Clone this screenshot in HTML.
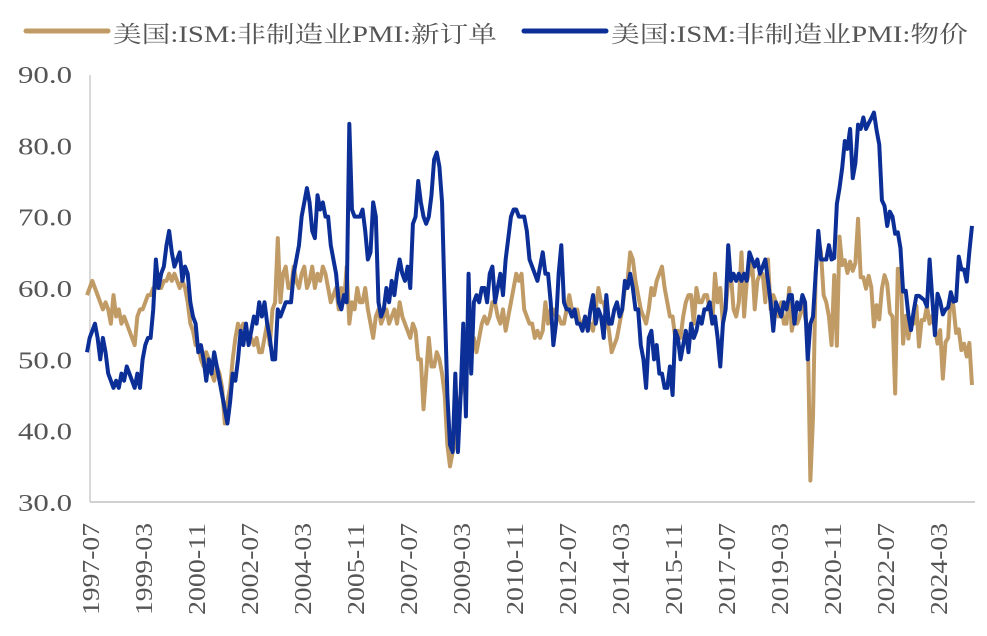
<!DOCTYPE html>
<html><head><meta charset="utf-8"><style>
html,body{margin:0;padding:0;background:#fff;}
svg{display:block;}
</style></head><body>
<svg id="chart" width="987" height="636" xmlns="http://www.w3.org/2000/svg">
  <g>
    <line x1="26" y1="31" x2="108" y2="31" stroke="#C19B66" stroke-width="5" stroke-linecap="round"/>
    <text x="113" y="42" font-size="23" fill="#555" textLength="384" lengthAdjust="spacingAndGlyphs" font-family="'Liberation Serif','Noto Serif CJK SC',serif">美国:ISM:非制造业PMI:新订单</text>
    <line x1="524" y1="31" x2="606" y2="31" stroke="#0B2F97" stroke-width="5" stroke-linecap="round"/>
    <text x="611" y="42" font-size="23" fill="#555" textLength="357" lengthAdjust="spacingAndGlyphs" font-family="'Liberation Serif','Noto Serif CJK SC',serif">美国:ISM:非制造业PMI:物价</text>
  </g>
  <g id="yaxis"></g>
  <g id="xaxis"></g>
  <g id="series"></g>
</svg>
<script>
const startYear = 1997, startMonth = 7;
const yTicks = [30, 40, 50, 60, 70, 80, 90];
const newOrders = [
59,60,61,60,59,58,
57,58,57,55,59,56,57,55,56,55,54,53,
52,56,57,57,58,59,59,60,60,61,60,61,
61,62,61,62,61,60,61,60,58,55,54,52,
52,50,49,51,50,48,47,49,48,46,41,44,
46,50,53,55,54,55,54,53,53,52,53,51,
51,53,55,52,57,58,67,58,62,63,60,60,
63,61,60,62,63,60,61,63,60,62,61,63,
62,60,58,59,60,57,60,58,63,55,58,57,
60,58,58,60,57,55,53,56,57,55,56,57,
55,56,57,55,58,56,55,54,53,55,54,50,
50,43,48,53,49,49,51,50,48,45,38,35,
37,38,43,45,47,48,50,52,53,51,53,55,
56,55,56,58,58,56,55,57,54,56,58,60,
62,61,62,57,56,55,55,53,54,53,54,58,
55,57,57,56,56,55,55,57,59,57,56,57,
55,55,56,54,55,54,57,60,58,58,56,54,
51,52,53,55,57,60,61,65,64,61,59,57,
56,55,57,60,59,61,62,63,60,58,56,56,
53,54,53,56,58,59,59,55,60,58,58,59,
59,57,55,62,58,60,55,57,61,62,57,56,
58,65,56,61,62,64,57,61,62,62,58,64,
57,59,58,56,58,55,55,60,54,56,55,56,
58,56,54,33,42,62,67,65,59,58,56,52,
61.8,51.9,67.2,63.2,63.9,62.1,63.7,62.4,63.5,69.7,61.5,61.5,
59.9,61.7,60.1,54.6,57.6,55.6,59.9,61.8,60.6,56.5,56.0,45.2,
62.7,62.6,52.2,56.1,52.9,55.5,55.0,57.5,51.8,55.5,55.5,57.5,
55.0,56.1,54.4,52.2,54.1,47.3,52.4,53.0,59.4,57.4,53.7,54.2,
51.3,52.2,50.4,52.3,46.4
];
const prices = [
51,53,54,55,53,50,
53,51,48,47,46,47,46,48,47,49,48,47,
46,48,46,50,52,53,53,57,64,60,62,63,
66,68,65,63,64,65,61,63,62,58,56,55,
51,52,50,47,50,48,51,49,47,45,43,41,
44,48,47,50,54,52,55,52,54,56,55,58,
56,58,55,53,50,50,57,56,57,58,58,58,
62,64,66,70,72,74,72,68,67,73,71,72,
70,70,66,64,62,58,57,59,58,83,71,70,
70,70,71,68,64,65,72,70,58,56,57,60,
58,61,59,62,64,62,61,63,60,69,70,75,
72,70,69,70,73,78,79,77,72,58,45,38,
37,48,37,45,55,42,62,48,58,59,58,60,
60,58,62,63,58,60,62,59,64,67,70,71,
71,70,70,70,68,64,63,62,61,63,65,62,
62,58,52,55,62,66,58,57,57,56,57,55,
55,54,56,54,57,59,55,57,56,53,59,55,
55,57,58,56,57,61,60,62,60,57,57,52,
50,46,53,54,50,52,48,48,46,46,49,45,
54,53,50,52,54,51,55,53,54,56,55,57,
57,58,55,56,53,49,55,57,66,61,62,61,
62,61,62,61,65,64,63,64,62,63,64,61,
58,54,58,57,56,58,57,59,59,55,58,57,
59,58,50,55,56,62,68,64,64,64,66,64,
64.2,71.8,74,76.8,80.6,79.5,82.3,75.4,77.5,82.9,82.3,83.9,
82.3,83.1,83.8,84.6,82.1,80.1,72.3,71.5,68.7,70.7,70.0,67.6,
67.8,65.6,59.5,59.6,56.2,54.1,56.8,58.9,58.9,58.6,58.3,57.4,
64.0,58.6,53.4,59.2,58.1,56.3,57.0,57.3,59.4,58.1,58.2,64.4,
62.6,62.6,60.9,65.1,68.7
];
const tickEvery = 20;

const NS = 'http://www.w3.org/2000/svg';
const plot = {left: 87, right: 972, top: 74, bottom: 502};
const yMin = 30, yMax = 90;
const n = Math.max(newOrders.length, prices.length);
function xScale(i){ return plot.left + i * (plot.right - plot.left) / (n - 1); }
function yScale(v){ return plot.bottom - (v - yMin) / (yMax - yMin) * (plot.bottom - plot.top); }
function monthLabel(i){
  const m0 = startMonth - 1 + i;
  const y = startYear + Math.floor(m0 / 12);
  const m = (m0 % 12) + 1;
  return y + '-' + (m < 10 ? '0' + m : m);
}
function mk(tag, attrs){
  const e = document.createElementNS(NS, tag);
  for (const k in attrs) e.setAttribute(k, attrs[k]);
  return e;
}
const yAxis = document.getElementById('yaxis');
const xAxis = document.getElementById('xaxis');
const series = document.getElementById('series');

const yLine = mk('line', {x1: 90, y1: 75, x2: 90, y2: plot.bottom, stroke: '#d9d9d9', 'stroke-width': 2});


yAxis.appendChild(yLine);
yTicks.forEach(function(t){
  const tx = mk('text', {x: 18, y: yScale(t) + 9, 'font-size': 24, fill: '#555', textLength: 54, lengthAdjust: 'spacingAndGlyphs', 'font-family': "'Liberation Serif',serif"});
  tx.textContent = t.toFixed(1);
  
  
  yAxis.appendChild(tx);
});

const xLine = mk('line', {x1: 90, y1: plot.bottom, x2: 975, y2: plot.bottom, stroke: '#d0d0d0', 'stroke-width': 2});


xAxis.appendChild(xLine);
for (let i = 0; i < n; i += tickEvery){
  const x = xScale(i) + 3;
  const tx = mk('text', {x: 0, y: 0, 'text-anchor': 'end', 'font-size': 24, fill: '#555', textLength: 92, lengthAdjust: 'spacingAndGlyphs', 'font-family': "'Liberation Serif',serif", transform: 'translate(' + (x + 9) + ',' + 523 + ') rotate(-90)'});
  tx.textContent = monthLabel(i);
  
  
  xAxis.appendChild(tx);
}

function drawLine(arr, color, name){
  const d = arr.map(function(v, i){ return (i ? 'L' : 'M') + xScale(i).toFixed(2) + ',' + yScale(v).toFixed(2); }).join('');
  const p = mk('path', {d: d, fill: 'none', stroke: color, 'stroke-width': 4, 'stroke-linejoin': 'round'});
  
  
  series.appendChild(p);
}
drawLine(newOrders, '#C19B66', 'new-orders-line');
drawLine(prices, '#0B2F97', 'prices-line');
</script>
</body></html>
